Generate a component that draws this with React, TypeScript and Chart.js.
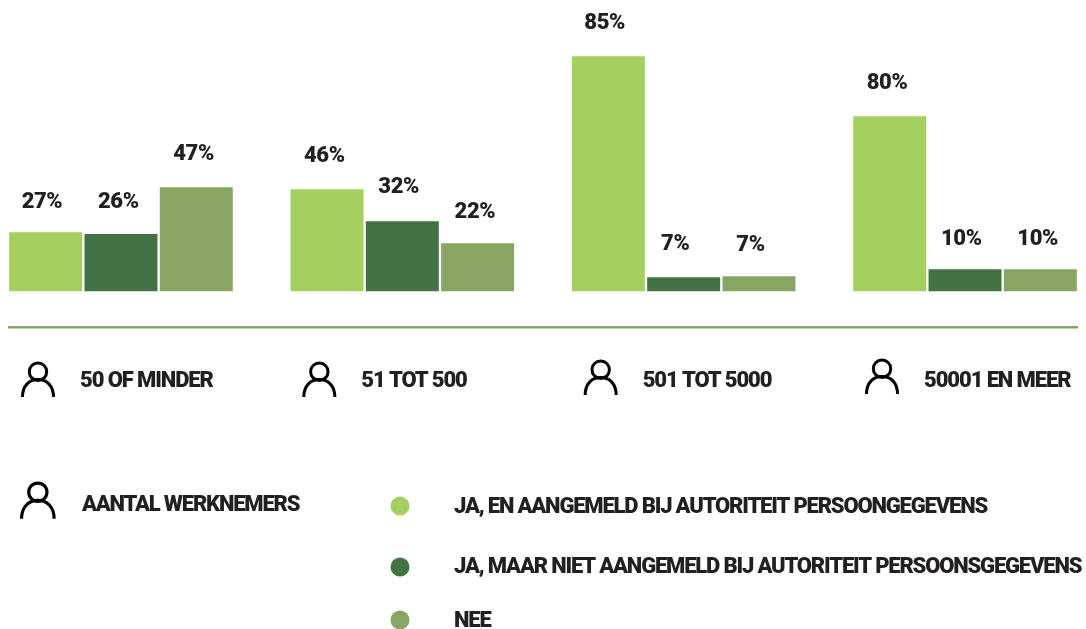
import React, { useEffect, useRef } from "react";
import { Chart, registerables } from "chart.js";

Chart.register(...registerables);

const categories = ["50 OF MINDER", "51 TOT 500", "501 TOT 5000", "50001 EN MEER"];
const seriesNames = [
  "JA, EN AANGEMELD BIJ AUTORITEIT PERSOONGEGEVENS",
  "JA, MAAR NIET AANGEMELD BIJ AUTORITEIT PERSOONSGEGEVENS",
  "NEE",
];
// Printed percentages
const jaAangemeldLabels = [27, 46, 85, 80];
const jaNietAangemeldLabels = [26, 32, 7, 10];
const neeLabels = [47, 22, 7, 10];
// Bar lengths as drawn in the picture (the source graphic is not strictly to scale)
const jaAangemeldBars = [26.8, 46.4, 106.8, 79.5];
const jaNietAangemeldBars = [26, 31.8, 6.4, 10];
const neeBars = [47.3, 21.8, 6.8, 10];
const axisTitle = "AANTAL WERKNEMERS";

const LIGHT = "#a5cf5e";
const DARK = "#437244";
const OLIVE = "#89a563";
const INK = "#231f20";
const FONT = 'Roboto, "Liberation Sans", sans-serif';
const FONT_SIZE = 22;
const SPACING = "-1.1px";
const LEGEND_SPACING = "-1.18px";
const VALUE_SPACING = "-0.4px";
// Gap between each bar top and the middle of its printed value, by series then group
const LABEL_LIFT = [
  [32, 35, 35, 35],
  [34, 36, 35, 32],
  [35.3, 33, 33, 32],
];
// Horizontal offset of each printed value from its bar centre
const LABEL_SHIFT = [
  [-3.7, -2.7, -3.7, -2.7],
  [-2.7, -3.7, -8.5, -3.7],
  [-2.7, -2.7, -8.5, -2.7],
];

function person(ctx: CanvasRenderingContext2D, x: number, y: number, s: number) {
  ctx.save();
  ctx.translate(x, y);
  ctx.scale(s, s);
  ctx.strokeStyle = "#000";
  ctx.lineWidth = 3;
  ctx.beginPath();
  ctx.arc(17, 9.7, 8.7, 0, Math.PI * 2);
  ctx.stroke();
  ctx.beginPath();
  ctx.moveTo(1.5, 35);
  ctx.bezierCurveTo(1.5, 24, 8, 17.5, 17, 17.5);
  ctx.bezierCurveTo(26, 17.5, 32.5, 24, 32.5, 35);
  ctx.stroke();
  ctx.restore();
}

const decorations = {
  id: "decorations",
  beforeDraw(chart: any) {
    (chart.ctx as any).letterSpacing = SPACING;
  },
  afterDraw(chart: any) {
    const ctx: CanvasRenderingContext2D = chart.ctx;
    const printed = [jaAangemeldLabels, jaNietAangemeldLabels, neeLabels];
    ctx.save();
    (ctx as any).letterSpacing = VALUE_SPACING;
    ctx.fillStyle = INK;
    ctx.font = `900 ${FONT_SIZE}px ${FONT}`;
    ctx.textAlign = "center";
    ctx.textBaseline = "middle";
    printed.forEach((vals, d) => {
      chart.getDatasetMeta(d).data.forEach((bar: any, i: number) => {
        ctx.fillText(`${vals[i]}%`, bar.x + LABEL_SHIFT[d][i], bar.y - LABEL_LIFT[d][i] + 2.5);
      });
    });

    const xs = chart.scales.x;
    const iconY = [362, 362, 360, 359];
    categories.forEach((_, i) => {
      person(ctx, xs.getPixelForTick(i) - 100, iconY[i], 1);
    });

    (ctx as any).letterSpacing = LEGEND_SPACING;
    person(ctx, 20, 482, 1.05);
    ctx.textAlign = "left";
    ctx.fillStyle = INK;
    ctx.fillText(axisTitle, 82, 505);

    const dotY = [506, 567, 620];
    const textY = [507, 567, 621];
    chart.data.datasets.forEach((ds: any, i: number) => {
      ctx.fillStyle = ds.backgroundColor;
      ctx.beginPath();
      ctx.arc(400, dotY[i], 9.5, 0, Math.PI * 2);
      ctx.fill();
      ctx.fillStyle = INK;
      ctx.fillText(ds.label, 454, textY[i]);
    });
    ctx.restore();
  },
};

export default function App() {
  const ref = useRef<HTMLCanvasElement>(null);
  useEffect(() => {
    const chart = new Chart(ref.current!, {
      type: "bar",
      data: {
        datasets: [
          { label: seriesNames[0], backgroundColor: LIGHT, data: jaAangemeldBars.map((y, i) => ({ x: i, y })) },
          { label: seriesNames[1], backgroundColor: DARK, data: jaNietAangemeldBars.map((y, i) => ({ x: i, y })) },
          { label: seriesNames[2], backgroundColor: OLIVE, data: neeBars.map((y, i) => ({ x: i, y })) },
        ],
      },
      options: {
        responsive: false,
        animation: false,
        layout: { padding: { left: 9, right: 9, top: 0, bottom: 0 } },
        datasets: { bar: { categoryPercentage: 0.803, barPercentage: 0.969 } },
        plugins: { legend: { display: false }, tooltip: { enabled: false } },
        scales: {
          x: {
            type: "linear",
            offset: false,
            min: -0.398,
            max: 3.398,
            grid: { display: false },
            border: { display: true, color: OLIVE, width: 2.6 },
            afterBuildTicks(scale: any) {
              scale.ticks = categories.map((_, i) => ({ value: i }));
            },
            afterFit(scale: any) {
              scale.height = 629 - 327;
              scale.paddingLeft = 0;
              scale.paddingRight = 0;
            },
            ticks: {
              callback: (v: any) => categories[Number(v)],
              autoSkip: false,
              maxRotation: 0,
              minRotation: 0,
              align: "start",
              labelOffset: -41,
              padding: 33,
              color: INK,
              font: { family: FONT, size: FONT_SIZE, weight: "900" },
            },
          },
          y: {
            display: false,
            min: -16.2,
            max: 132.3,
          },
        },
      },
      plugins: [decorations],
    } as any);
    return () => chart.destroy();
  }, []);
  return (
    <div style={{ position: "absolute", left: 0, top: 0, width: 1086, height: 629, overflow: "hidden", background: "#fff" }}>
      <canvas ref={ref} width={1086} height={629} style={{ display: "block" }} />
    </div>
  );
}
